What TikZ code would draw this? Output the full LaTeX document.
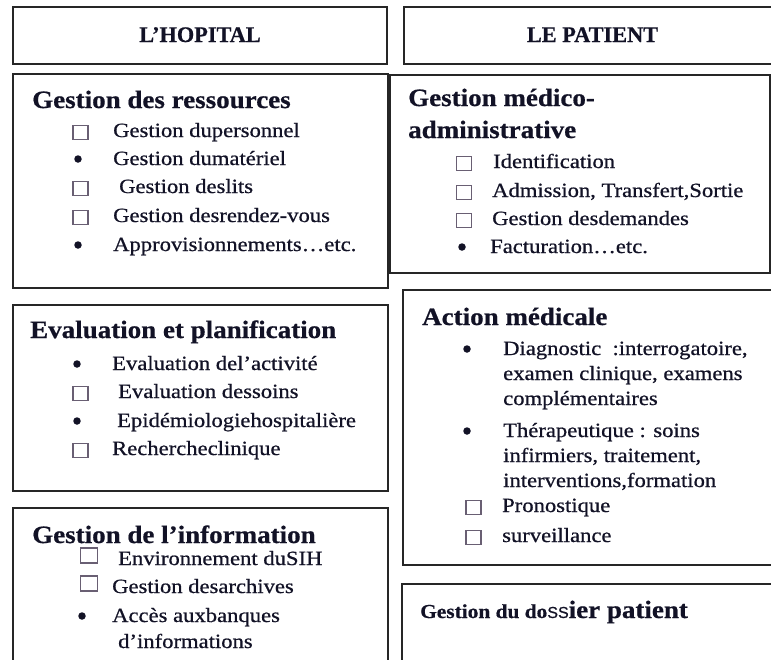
\documentclass[tikz,border=0pt]{standalone}
\usepackage{fontspec}
\setmainfont{Liberation Serif}
\newfontfamily\itemfont[FakeStretch=1.12, FakeBold=0.7]{Liberation Serif}
\newfontfamily\headfont[FakeStretch=1.08, FakeBold=0.6]{Liberation Serif}
\newfontfamily\titlefont[FakeBold=0.6]{Liberation Serif}
\newfontfamily\ssfont[FakeBold=0.8]{Liberation Sans}
\definecolor{ink}{RGB}{18,18,38}
\definecolor{boxline}{RGB}{105,95,115}

% one list line: name, marker style, marker x, text x, baseline, text
\newcommand{\listline}[6]{%
  \node[#2] (#1m) at (#3,#5) {};
  \node[itemtxt] (#1) at (#4,#5) {#6};}

\begin{document}
\begin{tikzpicture}[x=1pt, y=-1pt,
  frame/.style={draw=black!85, line width=1.6pt, rectangle, inner sep=0pt,
    outer sep=0pt, anchor=north west},
  titletxt/.style={anchor=base, inner sep=0pt, text=ink,
    font=\titlefont\bfseries\fontsize{22.3}{24}\selectfont},
  headtxt/.style={anchor=base west, inner sep=0pt, text=ink,
    font=\headfont\bfseries\fontsize{25}{27}\selectfont},
  itemtxt/.style={anchor=base west, inner sep=0pt, text=ink,
    font=\itemfont\fontsize{20.2}{22}\selectfont},
  sq/.style={draw=boxline, line width=1.7pt, fill=white, rectangle,
    minimum width=15pt, minimum height=14pt, inner sep=0pt, yshift=4.5pt},
  bigsq/.style={sq, minimum width=17pt, minimum height=15pt, yshift=5pt},
  blt/.style={circle, fill=ink, minimum size=7.5pt, inner sep=0pt, yshift=6pt}
]
\useasboundingbox (0,0) rectangle (771,659);
\clip (0,0) rectangle (771,659);

% frames
\node[frame, minimum width=374pt, minimum height=57pt] (hop) at (13,7) {};
\node[frame, minimum width=380pt, minimum height=57pt] (pat) at (404,7) {};
\node[frame, minimum width=375pt, minimum height=214pt] (res) at (13,74) {};
\node[frame, minimum width=380pt, minimum height=198pt] (med) at (390,75) {};
\node[frame, minimum width=375pt, minimum height=186pt] (eva) at (13,305) {};
\node[frame, minimum width=380pt, minimum height=275pt] (act) at (403,290) {};
\node[frame, minimum width=375pt, minimum height=170pt] (inf) at (13,508) {};
\node[frame, minimum width=380pt, minimum height=100pt] (dos) at (402,584) {};

% column titles
\node[titletxt] (hopt) at (200,42) {L’HOPITAL};
\node[titletxt] (patt) at (592.5,42) {LE PATIENT};

% Gestion des ressources
\node[headtxt] (resh) at (32,108) {Gestion des ressources};
\listline{r1}{sq}{80.5}{113}{137}{Gestion dupersonnel}
\listline{r2}{blt}{78}{113}{165}{Gestion dumatériel}
\listline{r3}{sq}{80.5}{119}{193}{Gestion deslits}
\listline{r4}{sq}{80.5}{113}{222}{Gestion desrendez-vous}
\listline{r5}{blt}{78}{113}{251}{Approvisionnements…etc.}

% Gestion medico-administrative
\node[headtxt] (medh) at (408,106) {Gestion médico-};
\node[headtxt] (medh2) at (408,138) {administrative};
\listline{m1}{sq}{464}{493}{168}{Identification}
\listline{m2}{sq}{464}{492}{197}{Admission, Transfert,Sortie}
\listline{m3}{sq}{464}{492}{225}{Gestion desdemandes}
\listline{m4}{blt}{462}{490}{253}{Facturation…etc.}

% Evaluation et planification
\node[headtxt] (evah) at (30,338) {Evaluation et planification};
\listline{e1}{blt}{77}{112}{370}{Evaluation del’activité}
\listline{e2}{sq}{80.5}{118}{398}{Evaluation dessoins}
\listline{e3}{blt}{77}{117}{427}{Epidémiologiehospitalière}
\listline{e4}{sq}{80.5}{112}{455}{Rechercheclinique}

% Action medicale
\node[headtxt] (acth) at (422,325) {Action médicale};
\listline{a1}{blt}{467}{503}{355}{Diagnostic\ \ :interrogatoire,}
\node[itemtxt] (a1b) at (503,380) {examen clinique, examens};
\node[itemtxt] (a1c) at (503,405) {complémentaires};
\listline{a2}{blt}{467}{503}{437}{Thérapeutique : soins}
\node[itemtxt] (a2b) at (503,462) {infirmiers, traitement,};
\node[itemtxt] (a2c) at (503,487) {interventions,formation};
\listline{a3}{sq}{473.5}{502}{512}{Pronostique}
\listline{a4}{sq}{473.5}{502}{542}{surveillance}

% Gestion de l'information
\node[headtxt] (infh) at (32,543) {Gestion de l’information};
\listline{i1}{bigsq}{89}{118}{565}{Environnement duSIH}
\listline{i2}{bigsq}{89}{112}{593}{Gestion desarchives}
\listline{i3}{blt}{82}{112}{622}{Accès auxbanques}
\node[itemtxt] (i3b) at (118,648) {d’informations};

% Gestion du dossier patient
\node[anchor=base west, inner sep=0pt, text=ink] (dosh) at (420,618)
  {{\headfont\bfseries\fontsize{19.8}{22}\selectfont Gestion du do}%
   {\ssfont\fontsize{16}{18}\selectfont SS}%
   {\headfont\bfseries\fontsize{25}{27}\selectfont ier patient}};
\end{tikzpicture}
\end{document}
